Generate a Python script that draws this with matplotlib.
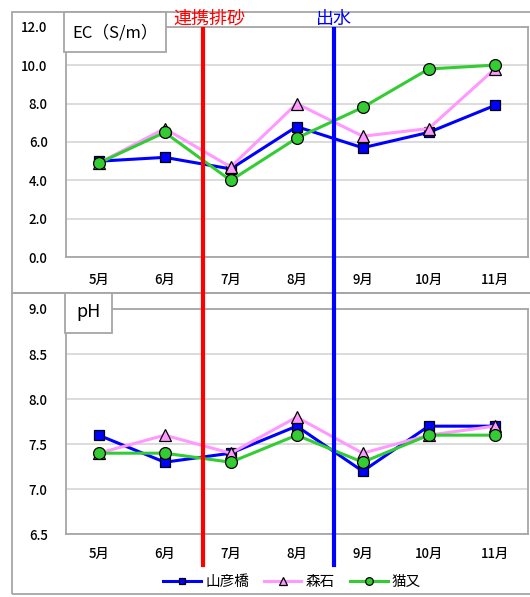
import matplotlib.pyplot as plt
import numpy as np
from matplotlib.patches import Rectangle
from matplotlib.lines import Line2D
from matplotlib.transforms import blended_transform_factory, offset_copy

plt.rcParams['font.family'] = ['Noto Sans CJK JP', 'DejaVu Sans']

months = ['5月', '6月', '7月', '8月', '9月', '10月', '11月']
sites = ['山彦橋', '森石', '猫又']

ec_yamabiko = [5.0, 5.2, 4.6, 6.8, 5.7, 6.5, 7.9]
ec_moriishi = [4.9, 6.7, 4.7, 8.0, 6.3, 6.7, 9.8]
ec_nekomata = [4.9, 6.5, 4.0, 6.2, 7.8, 9.8, 10.0]

ph_yamabiko = [7.6, 7.3, 7.4, 7.7, 7.2, 7.7, 7.7]
ph_moriishi = [7.4, 7.6, 7.4, 7.8, 7.4, 7.6, 7.7]
ph_nekomata = [7.4, 7.4, 7.3, 7.6, 7.3, 7.6, 7.6]

events = ['連携排砂', '出水']
event_pos = [1.585, 3.565]   # 月の間の位置
event_colors = ['#ff0000', '#0000ff']

W, H = 530, 597
def fx(px): return px / W
def fy(py): return 1 - py / H

fig = plt.figure(figsize=(W / 100, H / 100), dpi=100)
ax1 = fig.add_axes([fx(65.7), fy(257.3), fx(527.7) - fx(65.7), fy(26.7) - fy(257.3)])
ax2 = fig.add_axes([fx(65.7), fy(534.3), fx(527.7) - fx(65.7), fy(309) - fy(534.3)])

x = np.arange(len(months))
styles = [
    dict(color='#0000ff', marker='s', markerfacecolor='#0000ff', markersize=7.5),
    dict(color='#ff99ff', marker='^', markerfacecolor='#ff99ff', markersize=8),
    dict(color='#33cc33', marker='o', markerfacecolor='#33cc33', markersize=8.5),
]

def setup(ax, lo, hi, step, xpad):
    ax.set_xlim(-0.5, len(months) - 0.5)
    ax.set_ylim(lo, hi)
    ax.set_yticks(np.arange(lo, hi + step / 2, step))
    ax.yaxis.set_major_formatter('{x:.1f}')
    ax.set_xticks(x, months)
    ax.tick_params(axis='y', length=0, labelsize=9.5, pad=13)
    ax.tick_params(axis='x', length=0, labelsize=9.5, pad=xpad)
    for lab in ax.get_xticklabels() + ax.get_yticklabels():
        lab.set_fontweight('medium')
    ax.grid(axis='y', color='#d9d9d9', lw=1.3)
    ax.set_axisbelow(True)
    for s in ax.spines.values():
        s.set_color('#a6a6a6')
        s.set_linewidth(1.3)

for ax, data in [(ax1, [ec_yamabiko, ec_moriishi, ec_nekomata]),
                 (ax2, [ph_yamabiko, ph_moriishi, ph_nekomata])]:
    for name, vals, st in zip(sites, data, styles):
        ax.plot(x, vals, lw=2.2, markeredgecolor='black', markeredgewidth=0.9,
                label=name, **st)

setup(ax1, 0, 12, 2, 11)
setup(ax2, 6.5, 9.0, 0.5, 9)

# 外枠
frame = dict(transform=fig.transFigure, fill=False, edgecolor='#a6a6a6', lw=1.3)
fig.add_artist(Rectangle((fx(11.7), fy(293)), fx(545) - fx(11.7), fy(11.7) - fy(293), **frame))
fig.add_artist(Rectangle((fx(11.7), fy(594)), fx(545) - fx(11.7), fy(293) - fy(594), **frame))

# 項目名の枠
box = dict(transform=fig.transFigure, facecolor='white', edgecolor='#a6a6a6', lw=1.3)
fig.add_artist(Rectangle((fx(64), fy(52)), fx(166) - fx(64), fy(11.7) - fy(52), **box))
fig.text(fx(115), fy(32.5), 'EC（S/m）', ha='center', va='center', fontsize=12)
fig.add_artist(Rectangle((fx(65), fy(332.7)), fx(111.7) - fx(65), fy(293) - fy(332.7), **box))
fig.text(fx(88.3), fy(312), 'pH', ha='center', va='center', fontsize=13)

# 連携排砂・出水の縦線
trans = blended_transform_factory(ax1.transData, fig.transFigure)
text_dx = [6, 0]
for name, pos, col, dx in zip(events, event_pos, event_colors, text_dx):
    fig.add_artist(Line2D([pos, pos], [fy(29), fy(565)], color=col, lw=3,
                          transform=trans, zorder=5))
    fig.text(pos, fy(19), name, color=col, ha='center', va='center', fontsize=13,
             transform=offset_copy(trans, fig=fig, x=dx, units='dots'))

ax2.legend(loc='center', bbox_to_anchor=(fx(292), fy(582)), bbox_transform=fig.transFigure,
           ncol=3, frameon=False, fontsize=10.5, handlelength=2.6, columnspacing=1.0,
           handletextpad=0.3, markerscale=0.65)

fig.savefig('out.png', dpi=100)
